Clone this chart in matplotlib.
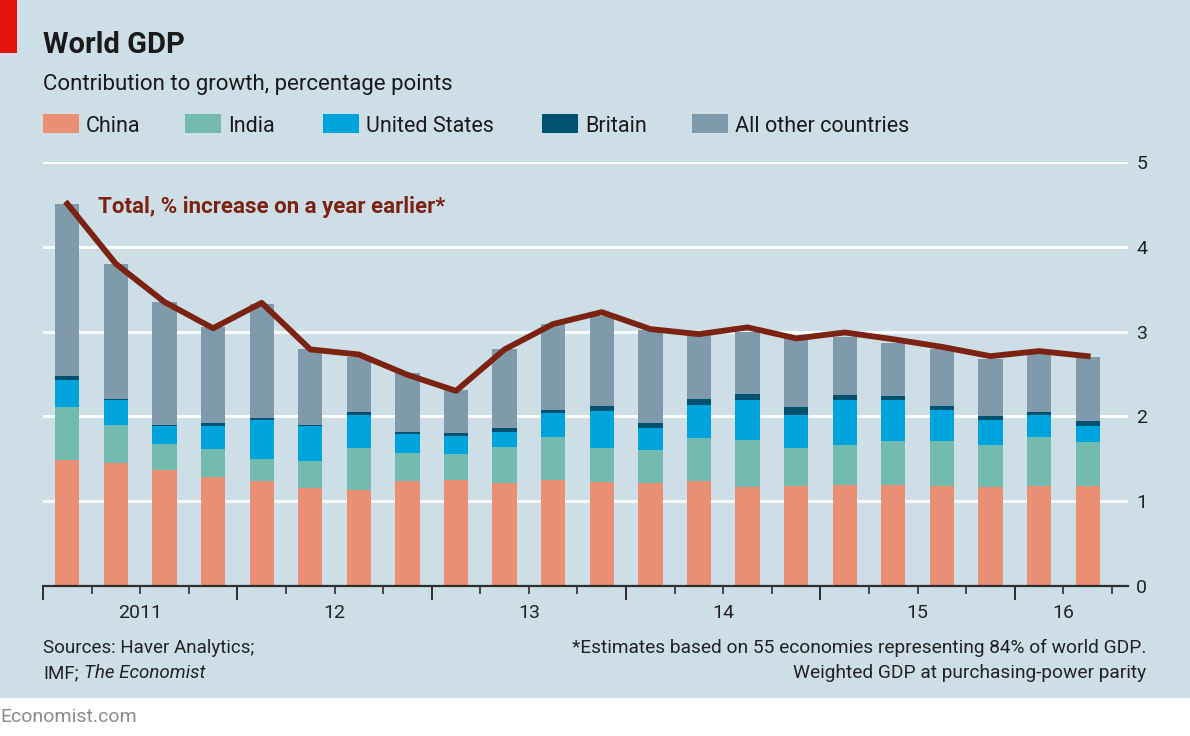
import numpy as np
import matplotlib.pyplot as plt
from matplotlib.patches import Rectangle

plt.rcParams['font.family'] = ['Roboto', 'DejaVu Sans']

# quarterly data, 2011Q1 - 2016Q2
quarters = ['2011Q1', '2011Q2', '2011Q3', '2011Q4',
            '2012Q1', '2012Q2', '2012Q3', '2012Q4',
            '2013Q1', '2013Q2', '2013Q3', '2013Q4',
            '2014Q1', '2014Q2', '2014Q3', '2014Q4',
            '2015Q1', '2015Q2', '2015Q3', '2015Q4',
            '2016Q1', '2016Q2']
china = [1.48, 1.45, 1.36, 1.28, 1.23, 1.15, 1.13, 1.23, 1.25, 1.21, 1.25,
         1.22, 1.21, 1.23, 1.16, 1.18, 1.19, 1.19, 1.18, 1.16, 1.18, 1.18]
india = [0.63, 0.45, 0.31, 0.33, 0.27, 0.32, 0.49, 0.34, 0.30, 0.43, 0.51,
         0.41, 0.39, 0.51, 0.56, 0.44, 0.47, 0.52, 0.53, 0.50, 0.58, 0.52]
us = [0.32, 0.29, 0.21, 0.27, 0.46, 0.41, 0.40, 0.22, 0.22, 0.18, 0.28,
      0.43, 0.26, 0.39, 0.47, 0.40, 0.53, 0.48, 0.36, 0.30, 0.25, 0.19]
britain = [0.05, 0.02, 0.02, 0.04, 0.02, 0.02, 0.03, 0.02, 0.03, 0.04, 0.04,
           0.06, 0.06, 0.07, 0.07, 0.09, 0.06, 0.05, 0.05, 0.04, 0.04, 0.05]
others = [2.03, 1.59, 1.45, 1.13, 1.35, 0.89, 0.65, 0.70, 0.51, 0.94, 1.01,
          1.07, 1.10, 0.77, 0.74, 0.82, 0.69, 0.63, 0.67, 0.68, 0.68, 0.76]
total = [4.51, 3.80, 3.35, 3.04, 3.34, 2.79, 2.73, 2.49, 2.30, 2.79, 3.09,
         3.23, 3.03, 2.97, 3.05, 2.92, 2.99, 2.91, 2.82, 2.71, 2.77, 2.71]
year_labels = ['2011', '12', '13', '14', '15', '16']

series = [('China', china, '#e98f74'),
          ('India', india, '#72bbae'),
          ('United States', us, '#00a4dc'),
          ('Britain', britain, '#005270'),
          ('All other countries', others, '#7f9bab')]

bg = '#cedee6'
dark = '#2e2e2e'
line_col = '#7b2213'

W, H = 1190, 736
fig = plt.figure(figsize=(W / 100, H / 100), dpi=100)
fig.patch.set_facecolor('white')
fig.patches.append(Rectangle((0, 1 - 698 / H), 1, 698 / H, transform=fig.transFigure,
                             facecolor=bg, edgecolor='none', zorder=-10))
fig.patches.append(Rectangle((0, 1 - 53 / H), 17 / W, 53 / H, transform=fig.transFigure,
                             facecolor='#e3120b', edgecolor='none', zorder=-5))

ax = fig.add_axes([43 / W, 1 - 585.6 / H, (1128 - 43) / W, (585.6 - 162.3) / H])
ax.set_facecolor('none')

x = np.arange(len(quarters))
bottom = np.zeros(len(quarters))
for name, vals, col in series:
    ax.bar(x, vals, width=0.5, bottom=bottom, color=col, zorder=2)
    bottom += np.array(vals)
ax.plot(x, total, color=line_col, lw=4.2, solid_joinstyle='round', zorder=3)

ax.set_xlim(-0.5, 21.83)
ax.set_ylim(0, 5)
ax.set_axisbelow(True)
ax.yaxis.grid(True, color='white', lw=2)
ax.yaxis.tick_right()
ax.set_yticks(range(6))
ax.tick_params(axis='y', length=0, pad=6, labelsize=14, labelcolor='#222222')
for s in ['left', 'right', 'top']:
    ax.spines[s].set_visible(False)
ax.spines['bottom'].set_color(dark)
ax.spines['bottom'].set_linewidth(1.6)

years = [q[:4] for q in quarters]
uniq = sorted(set(years))
starts = [years.index(y) - 0.5 for y in uniq]
ax.set_xticks(starts)
ax.set_xticklabels([])
ax.set_xticks([i + 0.5 for i in x if i + 0.5 not in starts], minor=True)
ax.tick_params(axis='x', which='major', length=10, width=1.4, color=dark)
ax.tick_params(axis='x', which='minor', length=6, width=1.2, color=dark)
for y, lab in zip(uniq, year_labels):
    idx = [i for i, yy in enumerate(years) if yy == y]
    ax.text(np.mean(idx), -0.065, lab, transform=ax.get_xaxis_transform(),
            ha='center', va='center', fontsize=14, color='#222222')

fig.text(98 / W, 1 - 207 / H, 'Total, % increase on a year earlier*', color=line_col,
         fontsize=16, fontweight='bold', va='center', ha='left')

# titles
fig.text(43 / W, 1 - 53 / H, 'World GDP', fontsize=21, fontweight='bold',
         color='#1a1a1a', va='baseline')
fig.text(43 / W, 1 - 90 / H, 'Contribution to growth, percentage points',
         fontsize=16, color='#1a1a1a', va='baseline')

# legend
leg_x = [43, 185, 323, 542, 692]
for (name, vals, col), lx in zip(series, leg_x):
    fig.patches.append(Rectangle((lx / W, 1 - 133 / H), 36 / W, 19 / H,
                                 transform=fig.transFigure, facecolor=col, edgecolor='none'))
    fig.text((lx + 43) / W, 1 - 132 / H, name, fontsize=15.5, color='#1a1a1a', va='baseline')

# footer
fig.text(43 / W, 1 - 648 / H, 'Sources: Haver Analytics;', fontsize=13.5,
         color='#222222', va='center')
imf = fig.text(43 / W, 1 - 673 / H, 'IMF;', fontsize=13.5, color='#222222', va='center')
ax.annotate('The Economist', xy=(1, 0.5), xycoords=imf, xytext=(4, 0),
            textcoords='offset points', fontsize=13.5, color='#222222',
            va='center', ha='left', style='italic', annotation_clip=False)
fig.text(1146 / W, 1 - 648 / H,
         '*Estimates based on 55 economies representing 84% of world GDP.',
         fontsize=13.8, color='#222222', va='center', ha='right')
fig.text(1146 / W, 1 - 673 / H, 'Weighted GDP at purchasing-power parity',
         fontsize=13.8, color='#222222', va='center', ha='right')
fig.text(0, 1 - 717 / H, 'Economist.com', fontsize=14, color='#8a8a8a', va='center')

fig.savefig('out.png', dpi=100, facecolor=fig.get_facecolor())
